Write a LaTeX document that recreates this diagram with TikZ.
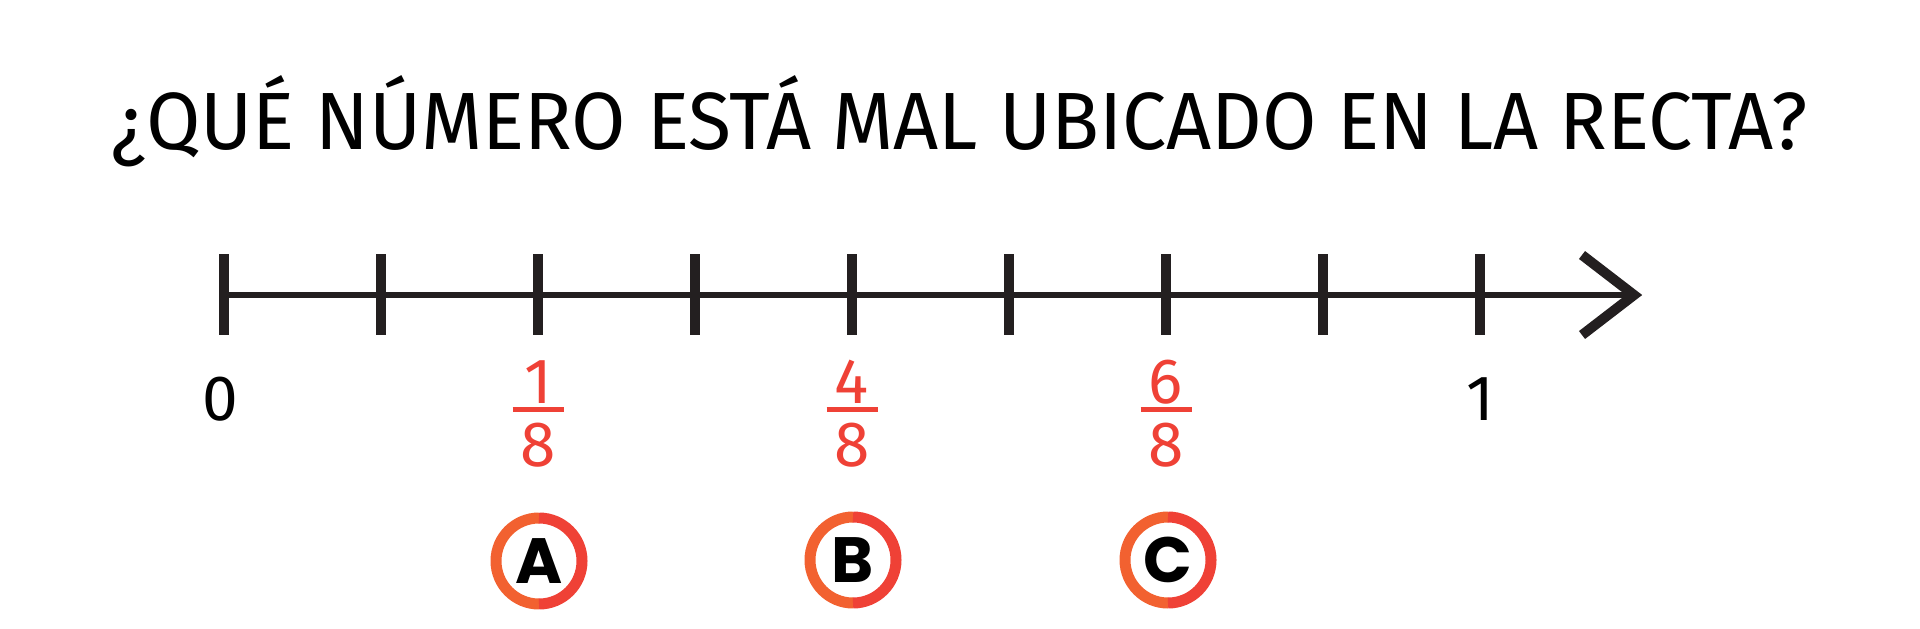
\documentclass[tikz,border=0pt]{standalone}
\usepackage{fontspec}
\setmainfont{Fira Sans}
\newfontfamily\letterfont{Poppins}
\definecolor{inkblack}{HTML}{231F20}
\definecolor{markred}{HTML}{EF4136}
\definecolor{ringorange}{HTML}{F26130}
\begin{document}
\begin{tikzpicture}[x=0.5pt,y=-0.5pt,
    title/.style={anchor=base,inner sep=0pt,font=\fontsize{40.6}{48}\selectfont},
    endlabel/.style={anchor=base,inner sep=0pt,font=\fontsize{32}{38}\selectfont},
    fraclabel/.style={anchor=base,inner sep=0pt,text=markred,font=\fontsize{32}{38}\selectfont},
    fracbar/.style={draw=markred,line width=2.5pt},
    choice/.style={inner sep=0pt,font=\letterfont\bfseries\fontsize{32}{38}\selectfont},
    tickmark/.style={draw=inkblack,line width=5.35pt}]
       \useasboundingbox (0,0) rectangle (1920,628);
       \node at (959.5,149) [title] (Q) {\scalebox{0.97}[1]{¿QUÉ NÚMERO ESTÁ MAL UBICADO EN LA RECTA?}};
       \draw [inkblack,line width=3.25pt]
          (219,295) -- (1632,295);
       \draw [tickmark]
          (224,254) -- (224,335)
          (381,254) -- (381,335)
          (538,254) -- (538,335)
          (695,254) -- (695,335)
          (852,254) -- (852,335)
          (1009,254) -- (1009,335)
          (1166,254) -- (1166,335)
          (1323,254) -- (1323,335)
          (1480,254) -- (1480,335);
       \draw [inkblack,line width=5pt,miter limit=10]
          (1582,255) -- (1634,295) -- (1582,335);
       \node at (220,420) [endlabel] (zero) {0};
       \node at (1480,420) [endlabel] (one) {1};
       \node at (538,403) [fraclabel] (n1) {1};
       \node at (538,466) [fraclabel] (d1) {8};
       \node at (852,403) [fraclabel] (n4) {4};
       \node at (852,466) [fraclabel] (d4) {8};
       \node at (1166,403) [fraclabel] (n6) {6};
       \node at (1166,466) [fraclabel] (d6) {8};
       \draw [fracbar]
          (512.5,409.5) -- (563.5,409.5)
          (826.5,409.5) -- (877.5,409.5)
          (1140.5,409.5) -- (1191.5,409.5);
       \node at (539,561) [choice] (A) {A};
       \node at (853,560) [choice] (B) {B};
       \node at (1168,560) [choice] (C) {C};
       \draw [ringorange,line width=5.5pt]
          (A.center) ++(0,-43) arc [start angle=-90,end angle=-270,radius=43]
          (B.center) ++(0,-43) arc [start angle=-90,end angle=-270,radius=43]
          (C.center) ++(0,-43) arc [start angle=-90,end angle=-270,radius=43];
       \draw [markred,line width=5.5pt]
          (A.center) ++(0,-43) arc [start angle=-90,end angle=90,radius=43]
          (B.center) ++(0,-43) arc [start angle=-90,end angle=90,radius=43]
          (C.center) ++(0,-43) arc [start angle=-90,end angle=90,radius=43];
      \end{tikzpicture}
\end{document}
